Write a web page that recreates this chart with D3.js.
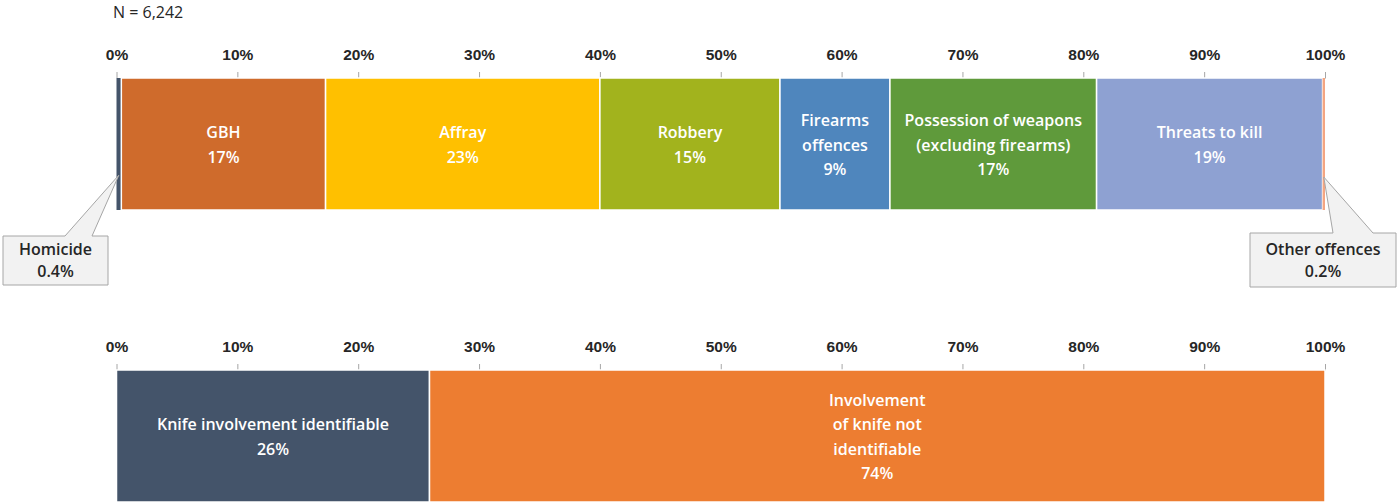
<!DOCTYPE html>
<html>
<head>
<meta charset="utf-8">
<script src="https://cdn.jsdelivr.net/npm/d3@7"></script>
<style>
  html, body { margin: 0; padding: 0; background: #fff; }
  svg { display: block; font-family: "Open Sans", "Noto Sans", sans-serif; }
  .axis text { font-size: 15.5px; font-weight: 600; fill: #262626; }
  .axis path, .axis line { stroke: #a6a6a6; }
  .seg-label { font-size: 16px; font-weight: 600; fill: #ffffff; }
  .callout text { font-size: 16px; font-weight: 600; fill: #262626; }
</style>
</head>
<body>
<svg id="chart" width="1397" height="502"></svg>
<script>
// Offence type breakdown (percent of all offences)
const offenceNames = ["Homicide", "GBH", "Affray", "Robbery", "Firearms offences",
  "Possession of weapons (excluding firearms)", "Threats to kill", "Other offences"];
const offenceValues = [0.4, 16.9, 22.7, 14.9, 9.1, 17.1, 18.7, 0.2];
const offenceLines = [[], ["GBH"], ["Affray"], ["Robbery"], ["Firearms", "offences"],
  ["Possession of weapons", "(excluding firearms)"], ["Threats to kill"], []];
const offenceLabels = ["0.4%", "17%", "23%", "15%", "9%", "17%", "19%", "0.2%"];
const offenceColors = ["#44546a", "#cf6b2c", "#ffc000", "#a2b31d", "#4f86bd", "#5f9a3b", "#8ea1d2", "#f4a582"];

// Knife involvement breakdown
const knifeNames = ["Knife involvement identifiable", "Involvement of knife not identifiable"];
const knifeValues = [25.9, 74.1];
const knifeLines = [["Knife involvement identifiable"], ["Involvement", "of knife not", "identifiable"]];
const knifeLabels = ["26%", "74%"];
const knifeColors = ["#44546a", "#ed7d31"];

const tickValues = [0, 10, 20, 30, 40, 50, 60, 70, 80, 90, 100];
const sampleNote = "N = 6,242";

const svg = d3.select("#chart");
const x = d3.scaleLinear().domain([0, 100]).range([116.5, 1325]);
const barH = 132;
const lineH = 24.5;

function stack(values) {
  let acc = 0;
  return values.map(v => { const s = acc; acc += v; return { x0: s, x1: acc, v }; });
}

function drawBar(top, values, colors, lines, labels) {
  const g = svg.append("g");
  const segs = stack(values);

  const axis = d3.axisTop(x)
    .tickValues(tickValues)
    .tickFormat(d => d + "%")
    .tickSize(6)
    .tickSizeOuter(0)
    .tickPadding(12);
  g.append("g").attr("class", "axis").attr("transform", `translate(0,${top})`).call(axis);

  g.selectAll("rect.seg").data(segs).join("rect")
    .attr("class", "seg")
    .attr("x", d => x(d.x0))
    .attr("y", top)
    .attr("width", d => Math.max(0, x(d.x1) - x(d.x0)))
    .attr("height", barH)
    .attr("fill", (d, i) => colors[i])
    .attr("stroke", (d, i) => (d.v < 1 ? "none" : "#ffffff"))
    .attr("stroke-width", 1.5);

  segs.forEach((d, i) => {
    if (!lines[i].length) return;
    const all = lines[i].concat([labels[i]]);
    const cx = (x(d.x0) + x(d.x1)) / 2;
    const cy = top + barH / 2 + 1;
    const t = g.append("text").attr("class", "seg-label").attr("text-anchor", "middle");
    all.forEach((ln, k) => {
      t.append("tspan")
        .attr("x", cx)
        .attr("y", cy + (k - (all.length - 1) / 2) * lineH)
        .attr("dy", "0.35em")
        .text(ln);
    });
  });
  return segs;
}

svg.append("text")
  .attr("x", 113).attr("y", 12).attr("dy", "0.35em")
  .attr("font-size", 16).attr("font-weight", 400).attr("fill", "#262626")
  .text(sampleNote);

const topY = 78;
const segs1 = drawBar(topY, offenceValues, offenceColors, offenceLines, offenceLabels);
drawBar(370, knifeValues, knifeColors, knifeLines, knifeLabels);

// Callouts for the thin segments
function callout(box, tip, base, textLines) {
  const g = svg.append("g").attr("class", "callout");
  const [bx, by, bw, bh] = [box.x, box.y, box.w, box.h];
  const path = d3.path();
  path.moveTo(bx, by);
  path.lineTo(base[0], by);
  path.lineTo(tip[0], tip[1]);
  path.lineTo(base[1], by);
  path.lineTo(bx + bw, by);
  path.lineTo(bx + bw, by + bh);
  path.lineTo(bx, by + bh);
  path.closePath();
  g.append("path").attr("d", path.toString())
    .attr("fill", "#f2f2f2").attr("stroke", "#a6a6a6").attr("stroke-width", 1);
  const t = g.append("text").attr("text-anchor", "middle");
  textLines.forEach((ln, k) => {
    t.append("tspan").attr("x", bx + bw / 2)
      .attr("y", by + bh / 2 + (k - (textLines.length - 1) / 2) * 22)
      .attr("dy", "0.35em").text(ln);
  });
}

const homicide = segs1[0];
callout({ x: 3, y: 236, w: 105, h: 49 },
  [x((homicide.x0 + homicide.x1) / 2), topY + 97], [65, 92],
  [offenceNames[0], offenceLabels[0]]);

const other = segs1[7];
callout({ x: 1250, y: 233, w: 146, h: 54 },
  [x((other.x0 + other.x1) / 2), topY + 99], [1333, 1373],
  [offenceNames[7], offenceLabels[7]]);
</script>
</body>
</html>
